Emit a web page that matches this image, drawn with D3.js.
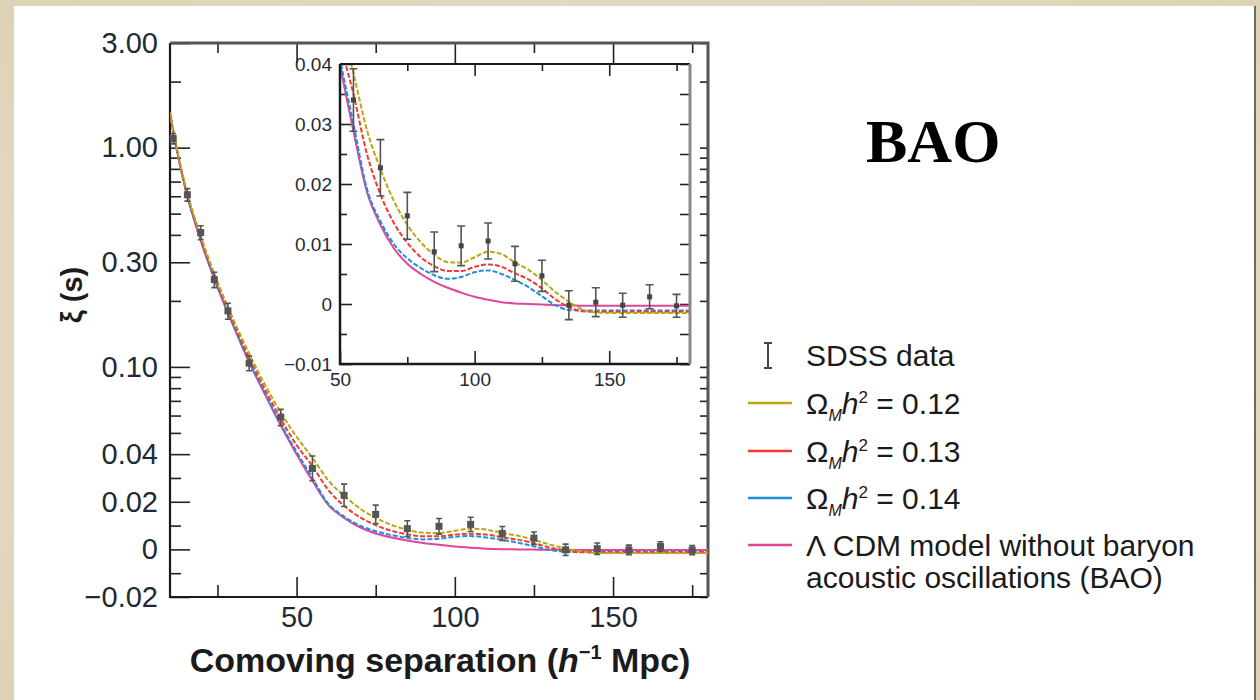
<!DOCTYPE html>
<html><head><meta charset="utf-8">
<script src="https://cdn.jsdelivr.net/npm/d3@7"></script>
<style>body{margin:0;background:#e7dec7;} svg{display:block}</style>
</head><body><svg id="c" width="1260" height="700"></svg>
<script>
// ---------- data ----------
const modelS   = [10, 12, 15, 20, 25, 30, 35, 40, 45, 50, 55, 60, 65, 70, 75, 80, 85, 90, 95, 100, 105, 110, 115, 120, 125, 130, 135, 140, 145, 150, 160, 170, 180];
const xi012    = [1.45, 1.02, 0.66, 0.385, 0.245, 0.165, 0.115, 0.083, 0.062, 0.048, 0.0385, 0.029, 0.0225, 0.0172, 0.0132, 0.0103, 0.0082, 0.007, 0.0069, 0.0078, 0.0087, 0.0083, 0.0069, 0.0057, 0.004, 0.002, 0.0004, -0.0009, -0.0014, -0.0015, -0.0015, -0.0015, -0.0015];
const xi013    = [1.44, 1.01, 0.65, 0.375, 0.238, 0.16, 0.11, 0.079, 0.058, 0.044, 0.035, 0.025, 0.0183, 0.0135, 0.0102, 0.0078, 0.0063, 0.0055, 0.0055, 0.0062, 0.0066, 0.0062, 0.0051, 0.0041, 0.0026, 0.0008, -0.0005, -0.0012, -0.0013, -0.0013, -0.0013, -0.0013, -0.0013];
const xi014    = [1.43, 1.0, 0.64, 0.368, 0.232, 0.155, 0.106, 0.076, 0.055, 0.041, 0.030, 0.0192, 0.0138, 0.0100, 0.0076, 0.006, 0.0048, 0.0042, 0.0045, 0.0053, 0.0056, 0.005, 0.004, 0.0028, 0.0013, -0.0002, -0.001, -0.0011, -0.0011, -0.0011, -0.0011, -0.0011, -0.0011];
const xiNoBAO  = [1.43, 1.0, 0.64, 0.366, 0.231, 0.154, 0.105, 0.075, 0.054, 0.040, 0.0288, 0.0187, 0.0132, 0.0093, 0.0067, 0.005, 0.0037, 0.0027, 0.0019, 0.0012, 0.0007, 0.0003, 0.0001, 0.0, -0.0001, -0.0002, -0.0002, -0.0003, -0.0003, -0.0003, -0.0003, -0.0003, -0.0003];

const dataS   = [11, 15.5, 19.7, 24, 28.3, 35, 45, 55, 65, 75, 85, 95, 105, 115, 125, 135, 145, 155, 165, 175];
const dataXi  = [1.1, 0.61, 0.41, 0.25, 0.18, 0.104, 0.059, 0.034, 0.0227, 0.0147, 0.0087, 0.0097, 0.0105, 0.0067, 0.0047, -0.0002, 0.0003, -0.0002, 0.0012, -0.0003];
const dataErr = [0.06, 0.04, 0.03, 0.02, 0.015, 0.008, 0.005, 0.0052, 0.0047, 0.0039, 0.0033, 0.0033, 0.003, 0.0029, 0.0026, 0.0024, 0.0024, 0.002, 0.002, 0.0019];

const seriesValues = [xi012, xi013, xi014, xiNoBAO];
const seriesColors = ["#b9a812", "#ee3a32", "#1f8fd8", "#e2449c"];
const seriesLegend = ["0.12", "0.13", "0.14"];

const yMajorTicks  = [3, 1, 0.3, 0.1, 0.04, 0.02, 0, -0.02];
const yMajorLabels = ["3.00", "1.00", "0.30", "0.10", "0.04", "0.02", "0", "\u22120.02"];
const yMinorTicks  = [2, 0.9, 0.8, 0.7, 0.6, 0.5, 0.4, 0.2, 0.09, 0.08, 0.07, 0.06, 0.05, 0.03, 0.01, -0.01];
const xMajorTicks  = [50, 100, 150];
const xMinorTicks  = [25, 75, 125, 175];

const inYMajor  = [0.04, 0.03, 0.02, 0.01, 0, -0.01];
const inYLabels = ["0.04", "0.03", "0.02", "0.01", "0", "\u22120.01"];
const inYMinor  = [0.035, 0.025, 0.015, 0.005, -0.005];
const inXMajor  = [50, 100, 150];
const inXMinor  = [75, 125, 175];

// ---------- setup ----------
const svg = d3.select("#c");
const defs = svg.append("defs");
const bg = defs.append("radialGradient").attr("id","parch").attr("cx","50%").attr("cy","50%").attr("r","75%");
bg.append("stop").attr("offset","0%").attr("stop-color","#efe7d4");
bg.append("stop").attr("offset","100%").attr("stop-color","#ddd1b4");
svg.append("rect").attr("width",1260).attr("height",700).attr("fill","url(#parch)");
svg.append("rect").attr("x",1253).attr("y",6).attr("width",3).attr("height",694).attr("fill","#6d675c");
svg.append("rect").attr("x",14).attr("y",6).attr("width",1240).attr("height",700).attr("fill","#ffffff");

// main scales
const A = 0.04;
const warp = v => v <= A ? v : A * (1 + Math.log(v / A));
const yLin = d3.scaleLinear().domain([warp(-0.02), warp(3)]).range([597, 43]);
function warpScale() {
  const s = v => yLin(warp(v));
  s.domain = () => [-0.02, 3];
  s.range = () => yLin.range();
  s.copy = () => warpScale();
  return s;
}
const y = warpScale();
const x = d3.scaleLinear().domain([10, 180]).range([170, 708]);

const FONT = "'Liberation Sans', Arial, sans-serif";
const main = svg.append("g");

function styleAxis(g, size) {
  g.select(".domain").remove();
  g.selectAll("line").attr("stroke", "#222").attr("stroke-width", 1.6);
  g.selectAll("text").attr("font-family", FONT).attr("font-size", size).attr("fill", "#1e2a36");
}

// left axis
main.append("g").attr("transform","translate(170,0)")
  .call(d3.axisLeft(y).tickValues(yMajorTicks).tickSizeInner(-20).tickSizeOuter(0).tickPadding(12)
        .tickFormat((d,i) => yMajorLabels[i]))
  .call(g => styleAxis(g, 29));
main.append("g").attr("transform","translate(170,0)")
  .call(d3.axisLeft(y).tickValues(yMinorTicks).tickSizeInner(-11).tickSizeOuter(0).tickFormat(""))
  .call(g => styleAxis(g, 29));
// right axis
main.append("g").attr("transform","translate(708,0)")
  .call(d3.axisRight(y).tickValues(yMajorTicks.concat(yMinorTicks)).tickSizeInner(-8).tickSizeOuter(0).tickFormat(""))
  .call(g => styleAxis(g, 29));
// bottom axis
main.append("g").attr("transform","translate(0,597)")
  .call(d3.axisBottom(x).tickValues(xMajorTicks).tickSizeInner(-20).tickSizeOuter(0).tickPadding(9).tickFormat(d3.format("d")))
  .call(g => styleAxis(g, 29));
main.append("g").attr("transform","translate(0,597)")
  .call(d3.axisBottom(x).tickValues(xMinorTicks).tickSizeInner(-12).tickSizeOuter(0).tickFormat(""))
  .call(g => styleAxis(g, 29));
// top axis
main.append("g").attr("transform","translate(0,43)")
  .call(d3.axisTop(x).tickValues(xMajorTicks).tickSizeInner(-20).tickSizeOuter(0).tickFormat(""))
  .call(g => styleAxis(g, 29));
main.append("g").attr("transform","translate(0,43)")
  .call(d3.axisTop(x).tickValues(xMinorTicks).tickSizeInner(-10).tickSizeOuter(0).tickFormat(""))
  .call(g => styleAxis(g, 29));

// frame
main.append("path").attr("d", `M170,43V597H708`).attr("fill","none").attr("stroke","#1a1a1a").attr("stroke-width",2.2);
main.append("path").attr("d", `M170,43H708V597`).attr("fill","none").attr("stroke","#555").attr("stroke-width",3);

// curves main
const clipMain = defs.append("clipPath").attr("id","clipMain");
clipMain.append("rect").attr("x",170).attr("y",43).attr("width",538).attr("height",554);
const lineMain = d3.line().x((d,i) => x(modelS[i])).y(d => y(d)).curve(d3.curveMonotoneX);
const curvesMain = main.append("g").attr("clip-path","url(#clipMain)");
[3,2,1,0].forEach(k => {
  curvesMain.append("path").datum(seriesValues[k]).attr("d", lineMain)
    .attr("fill","none").attr("stroke", seriesColors[k]).attr("stroke-width", 2)
    .attr("stroke-dasharray", k < 3 ? "5,2" : null);
});

// data points main
const ptsMain = main.append("g");
dataS.forEach((s, i) => {
  const cx = x(s), lo = y(dataXi[i] - dataErr[i]), hi = y(dataXi[i] + dataErr[i]);
  ptsMain.append("path").attr("d", `M${cx},${lo}V${hi}M${cx-3},${lo}H${cx+3}M${cx-3},${hi}H${cx+3}`)
    .attr("stroke","#555").attr("stroke-width",1.6).attr("fill","none");
  ptsMain.append("rect").attr("x", cx-3.5).attr("y", y(dataXi[i])-3.5).attr("width",7).attr("height",7).attr("fill","#555");
});

// axis titles
main.append("text").attr("x", 440).attr("y", 672).attr("text-anchor","middle")
  .attr("font-family", FONT).attr("font-size", 34).attr("font-weight","bold").attr("fill","#1b1b1b")
  .call(t => {
    t.append("tspan").text("Comoving separation (");
    t.append("tspan").attr("font-style","italic").text("h");
    t.append("tspan").attr("font-size", 20).attr("dy", -13).text("\u22121");
    t.append("tspan").attr("dy", 13).text(" Mpc)");
  });
main.append("text").attr("transform","translate(82,295) rotate(-90)").attr("text-anchor","middle")
  .attr("font-family", FONT).attr("font-size", 29).attr("font-weight","bold").attr("fill","#1b1b1b")
  .text("\u03BE (s)");

// ---------- inset ----------
const xi = d3.scaleLinear().domain([50, 180]).range([340, 690]);
const yi = d3.scaleLinear().domain([-0.01, 0.04]).range([364, 64]);
const inset = svg.append("g");
inset.append("rect").attr("x",340).attr("y",64).attr("width",350).attr("height",300).attr("fill","#fff");

inset.append("g").attr("transform","translate(340,0)")
  .call(d3.axisLeft(yi).tickValues(inYMajor).tickSizeInner(-12).tickSizeOuter(0).tickPadding(8).tickFormat((d,i)=>inYLabels[i]))
  .call(g => styleAxis(g, 19));
inset.append("g").attr("transform","translate(340,0)")
  .call(d3.axisLeft(yi).tickValues(inYMinor).tickSizeInner(-7).tickSizeOuter(0).tickFormat(""))
  .call(g => styleAxis(g, 19));
inset.append("g").attr("transform","translate(690,0)")
  .call(d3.axisRight(yi).tickValues(inYMajor.concat(inYMinor)).tickSizeInner(-10).tickSizeOuter(0).tickFormat(""))
  .call(g => styleAxis(g, 19));
inset.append("g").attr("transform","translate(0,364)")
  .call(d3.axisBottom(xi).tickValues(inXMajor).tickSizeInner(-13).tickSizeOuter(0).tickPadding(9).tickFormat(d3.format("d")))
  .call(g => styleAxis(g, 19));
inset.append("g").attr("transform","translate(0,364)")
  .call(d3.axisBottom(xi).tickValues(inXMinor).tickSizeInner(-7).tickSizeOuter(0).tickFormat(""))
  .call(g => styleAxis(g, 19));
inset.append("g").attr("transform","translate(0,64)")
  .call(d3.axisTop(xi).tickValues(inXMajor).tickSizeInner(-12).tickSizeOuter(0).tickFormat(""))
  .call(g => styleAxis(g, 19));
inset.append("g").attr("transform","translate(0,64)")
  .call(d3.axisTop(xi).tickValues(inXMinor).tickSizeInner(-7).tickSizeOuter(0).tickFormat(""))
  .call(g => styleAxis(g, 19));

const clipIn = defs.append("clipPath").attr("id","clipIn");
clipIn.append("rect").attr("x",340).attr("y",64).attr("width",350).attr("height",300);
const lineIn = d3.line().defined((d,i) => modelS[i] >= 45).x((d,i) => xi(modelS[i])).y(d => yi(d)).curve(d3.curveMonotoneX);
const curvesIn = inset.append("g").attr("clip-path","url(#clipIn)");
[3,2,1,0].forEach(k => {
  curvesIn.append("path").datum(seriesValues[k]).attr("d", lineIn)
    .attr("fill","none").attr("stroke", seriesColors[k]).attr("stroke-width", 2)
    .attr("stroke-dasharray", k < 3 ? "5,2" : null);
});
const ptsIn = inset.append("g").attr("clip-path","url(#clipIn)");
dataS.forEach((s, i) => {
  if (s < 50) return;
  const cx = xi(s), lo = yi(dataXi[i] - dataErr[i]), hi = yi(dataXi[i] + dataErr[i]);
  ptsIn.append("path").attr("d", `M${cx},${lo}V${hi}M${cx-4},${lo}H${cx+4}M${cx-4},${hi}H${cx+4}`)
    .attr("stroke","#555").attr("stroke-width",1.6).attr("fill","none");
  ptsIn.append("rect").attr("x", cx-2.5).attr("y", yi(dataXi[i])-2.5).attr("width",5).attr("height",5).attr("fill","#444");
});
inset.append("path").attr("d","M340,64V364H690").attr("fill","none").attr("stroke","#1a1a1a").attr("stroke-width",2.5);
inset.append("path").attr("d","M340,64H690").attr("fill","none").attr("stroke","#1a1a1a").attr("stroke-width",2);
inset.append("path").attr("d","M690,64V364").attr("fill","none").attr("stroke","#8a8a8a").attr("stroke-width",3);

// ---------- legend ----------
const leg = svg.append("g").attr("font-family", FONT).attr("font-size", 30).attr("fill","#1b1b1b");
leg.append("path").attr("d","M768,343V368M764,343H772M764,368H772").attr("stroke","#444").attr("stroke-width",2).attr("fill","none");
leg.append("text").attr("x",806).attr("y",366).text("SDSS data");
const legY = [403, 451, 498, 545];
legY.forEach((ly, k) => {
  leg.append("line").attr("x1",748).attr("x2",792).attr("y1",ly).attr("y2",ly)
    .attr("stroke", seriesColors[k]).attr("stroke-width", 2.5);
  if (k < 3) {
    leg.append("text").attr("x",806).attr("y",ly+11).call(t => {
      t.append("tspan").text("\u03A9");
      t.append("tspan").attr("font-size",16).attr("font-style","italic").attr("dy",7).text("M");
      t.append("tspan").attr("font-style","italic").attr("dy",-7).text("h");
      t.append("tspan").attr("font-size",17).attr("dy",-11).text("2");
      t.append("tspan").attr("dy",11).text(" = " + seriesLegend[k]);
    });
  }
});
leg.append("text").attr("x",806).attr("y",556).text("\u039B CDM model without baryon");
leg.append("text").attr("x",806).attr("y",588).text("acoustic oscillations (BAO)");

// title
svg.append("text").attr("x",866).attr("y",162).attr("font-family","'Liberation Serif', 'Times New Roman', serif")
  .attr("font-weight","bold").attr("font-size",62).attr("fill","#000").text("BAO");
</script></body></html>
